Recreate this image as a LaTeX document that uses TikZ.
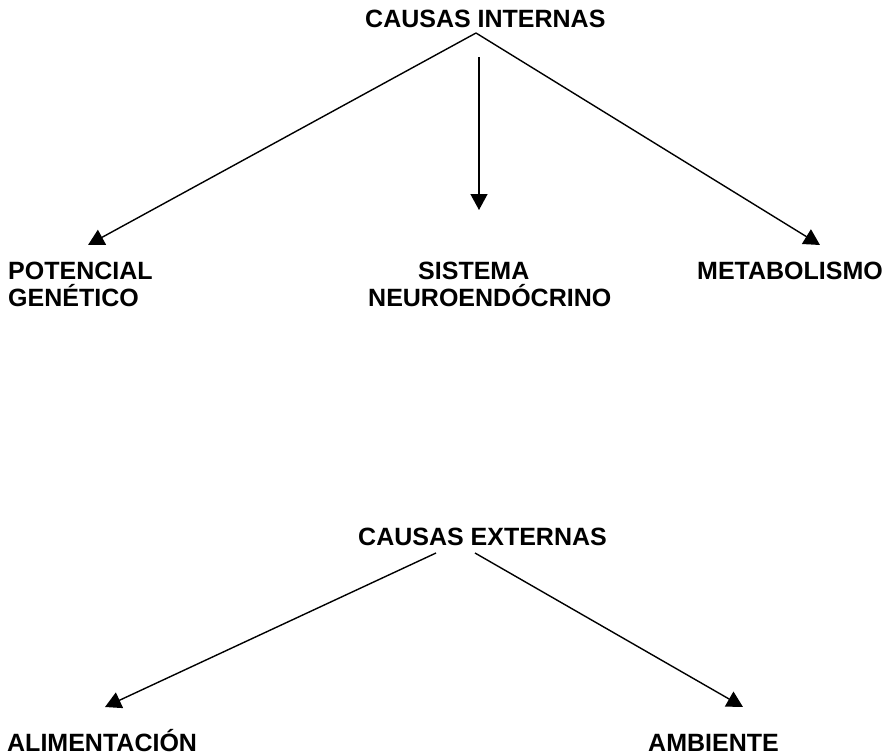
\documentclass[tikz,border=0pt]{standalone}
\usepackage{fontspec}
\setmainfont{Liberation Sans}
\usetikzlibrary{arrows.meta}
\tikzset{
  causa/.style={inner sep=0pt, font=\fontsize{25}{27}\selectfont\bfseries},
  flecha/.style={-{Triangle[length=16pt,width=17pt]}, line width=1.4pt},
}
\begin{document}
\begin{tikzpicture}[x=1pt,y=-1pt]
\useasboundingbox (0,0) rectangle (891,755);
% causas internas
\node[causa, anchor=base west] (ci) at (365,27) {CAUSAS INTERNAS};
\node[causa, anchor=north west, align=left] (pg) at (8,262) {POTENCIAL\\GENÉTICO};
\node[causa, anchor=north west, align=left] (sn) at (368,262) {\hspace*{50pt}SISTEMA\\NEUROENDÓCRINO};
\node[causa, anchor=north west] (me) at (697,262) {METABOLISMO};
\coordinate (ci-top) at (476,33);
\coordinate (ci-mid) at (479,57);
\draw[flecha] (ci-top) -- ([xshift=80pt,yshift=17pt]pg.north west);
\draw[flecha] (ci-mid) -- ([xshift=111pt,yshift=52pt]sn.north west);
\draw[flecha] (ci-top) -- ([xshift=123pt,yshift=17pt]me.north west);
% causas externas
\node[causa, anchor=base west] (ce) at (358,545) {CAUSAS EXTERNAS};
\node[causa, anchor=base west] (al) at (7,751) {ALIMENTACIÓN};
\node[causa, anchor=base west] (am) at (648,751) {AMBIENTE};
\coordinate (ce-izq) at (436,553);
\coordinate (ce-der) at (475,553);
\draw[flecha] (ce-izq) -- ([xshift=98pt,yshift=44pt]al.base west);
\draw[flecha] (ce-der) -- ([xshift=95pt,yshift=44pt]am.base west);
\end{tikzpicture}
\end{document}
